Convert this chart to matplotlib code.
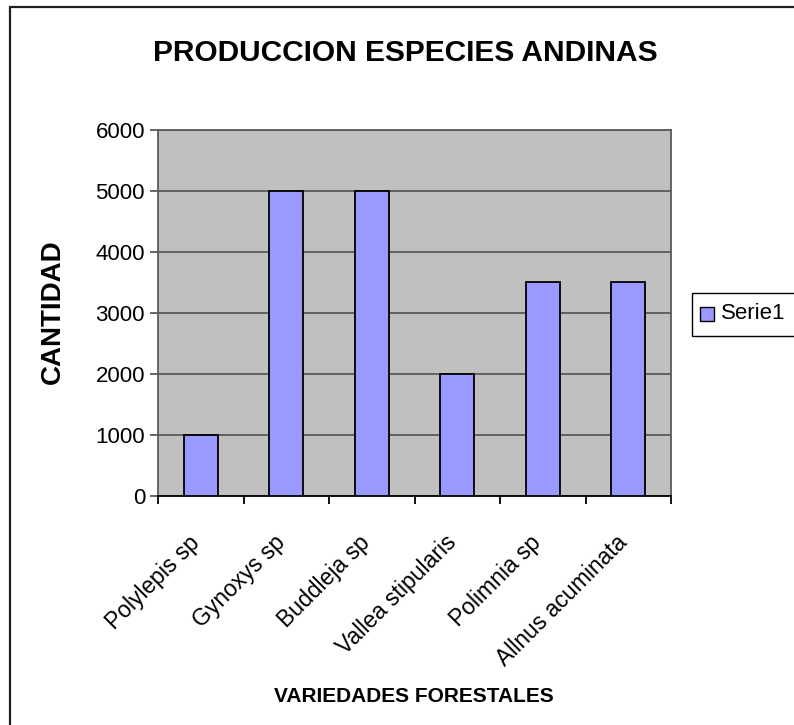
import matplotlib
matplotlib.use('Agg')
import matplotlib.pyplot as plt
from matplotlib.patches import Rectangle
from matplotlib.transforms import ScaledTranslation
import numpy as np

plt.rcParams['font.family'] = ['Liberation Sans', 'DejaVu Sans']

especies = ['Polylepis sp', 'Gynoxys sp', 'Buddleja sp', 'Vallea stipularis',
            'Polimnia sp', 'Allnus acuminata']
cantidad = [1000, 5000, 5000, 2000, 3500, 3500]
yticks = [0, 1000, 2000, 3000, 4000, 5000, 6000]

W, H = 794, 725
fig = plt.figure(figsize=(W / 100, H / 100), dpi=100)
PT = 72 / 100  # points per pixel


def px(x, y):
    """pixel coords (top-left origin) -> figure fraction"""
    return x / W, 1 - y / H


# outer chart border (right and bottom sides fall outside the image)
fig.patches.append(Rectangle(px(10, 800), 1.2, (800 - 7) / H,
                             transform=fig.transFigure, fill=False,
                             edgecolor='#202020', linewidth=1.6))

ax = fig.add_axes([158 / W, 1 - 496 / H, (671 - 158) / W, (496 - 130) / H])
ax.set_facecolor('#C0C0C0')

x = np.arange(len(especies))
ax.bar(x, cantidad, width=0.4, color='#9999FF', edgecolor='black',
       linewidth=1.3, zorder=3)

ax.set_xlim(-0.5, len(especies) - 0.5)
ax.set_ylim(0, 6000)
ax.set_yticks(yticks)
ax.set_yticklabels([str(v) for v in yticks], fontsize=16)
ax.yaxis.grid(True, color='#5a5a5a', linewidth=1.3, zorder=1)
ax.set_axisbelow(True)

ax.set_xticks(np.arange(len(especies) + 1) - 0.5)
ax.set_xticklabels([])
ax.tick_params(axis='x', length=8 * PT, width=1.3, color='black')
ax.tick_params(axis='y', length=8 * PT, width=1.3, color='#5a5a5a',
               pad=5 * PT)

# rotated category labels, anchored below the axis
off = ScaledTranslation(-13 / 100, -35 / 100, fig.dpi_scale_trans)
for xi, name in zip(x, especies):
    ax.text(xi, 0, name, transform=ax.transData + off, rotation=45,
            ha='right', va='top', rotation_mode='anchor', fontsize=16.5,
            clip_on=False)

for side in ['top', 'right', 'left']:
    ax.spines[side].set_color('#5a5a5a')
    ax.spines[side].set_linewidth(1.3)
ax.spines['bottom'].set_color('black')
ax.spines['bottom'].set_linewidth(1.3)

fig.text(*px(405, 53), 'PRODUCCION ESPECIES ANDINAS', ha='center',
         va='center', fontsize=21.5, fontweight='bold')
fig.text(*px(53, 312), 'CANTIDAD', ha='center', va='center',
         rotation=90, fontsize=20, fontweight='bold')
fig.text(*px(414, 696), 'VARIEDADES FORESTALES', ha='center',
         va='center', fontsize=15, fontweight='bold')

# legend box
fig.patches.append(Rectangle(px(692, 336), 0.2, 43 / H,
                             transform=fig.transFigure, facecolor='white',
                             edgecolor='black', linewidth=1.0))
fig.patches.append(Rectangle(px(700, 321), 14 / W, 14 / H,
                             transform=fig.transFigure, facecolor='#9999FF',
                             edgecolor='black', linewidth=1.0))
fig.text(*px(721, 314), 'Serie1', ha='left', va='center', fontsize=16)

fig.savefig('out.png', dpi=100)
